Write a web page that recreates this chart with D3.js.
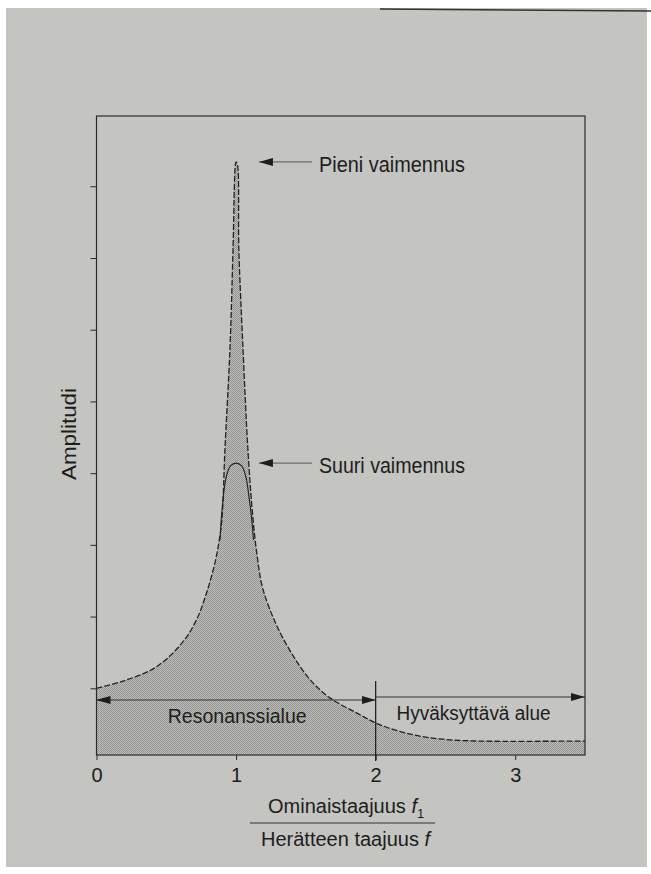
<!DOCTYPE html>
<html>
<head>
<meta charset="utf-8">
<script src="https://cdn.jsdelivr.net/npm/d3@7"></script>
<style>
body { margin: 0; background: #fff; }
text { font-family: "Liberation Sans", Arial, Helvetica, sans-serif; fill: #1d1d1d; }
</style>
</head>
<body>
<svg id="chart"></svg>
<script>
var width = 651,
    height = 874

// pieni vaimennus
var smallX = [0, 0.19, 0.43, 0.62, 0.72, 0.79, 0.85, 0.88, 0.90, 0.92, 0.956, 0.978, 0.995, 1.00,
    1.01, 1.02, 1.05, 1.085, 1.12, 1.15, 1.19, 1.29, 1.41, 1.53, 1.67, 1.87, 2.02, 2.25, 2.48, 2.73, 3.5]
var smallAmp = [1.00, 1.10, 1.30, 1.65, 1.97, 2.34, 2.76, 3.07, 3.39, 4.32, 5.72, 7.11, 8.30, 8.34,
    8.30, 7.11, 5.72, 4.32, 3.39, 2.86, 2.40, 1.88, 1.45, 1.12, 0.87, 0.65, 0.50, 0.36, 0.29, 0.265, 0.265]

// suuri vaimennus, only the arch near the peak differs
var largeX = [0.885, 0.895, 0.91, 0.93, 0.96, 1.00, 1.04, 1.07, 1.095, 1.11, 1.125]
var largeAmp = [3.07, 3.39, 3.70, 3.95, 4.10, 4.14, 4.10, 3.95, 3.63, 3.39, 3.07]

var xTicks = [0, 1, 2, 3]
var yTicks = [1, 2, 3, 4, 5, 6, 7, 8]
var regionSplit = 2
var regionLabels = ["Resonanssialue", "Hyväksyttävä alue"]

var svg = d3.select("#chart")
    .attr("width", width)
    .attr("height", height)

// paper
svg.append("rect")
    .attr("x", 6).attr("y", 8)
    .attr("width", 641).attr("height", 859)
    .attr("fill", "#c4c4c1")
svg.append("line")
    .attr("x1", 380).attr("y1", 9).attr("x2", 651).attr("y2", 11)
    .attr("stroke", "#333").attr("stroke-width", 1.5)

var x = d3.scaleLinear().domain([0, 3.5]).range([96.5, 585])
var y = d3.scaleLinear().domain([0.07, 8.98]).range([755, 116])

var defs = svg.append("defs")
var pat = defs.append("pattern")
    .attr("id", "dots")
    .attr("width", 2).attr("height", 2)
    .attr("patternUnits", "userSpaceOnUse")
pat.append("rect").attr("width", 2).attr("height", 2).attr("fill", "#bfbfbc")
pat.append("rect").attr("width", 1).attr("height", 1).attr("fill", "#929290")
pat.append("rect").attr("x", 1).attr("y", 1).attr("width", 1).attr("height", 1).attr("fill", "#929290")

defs.append("marker")
    .attr("id", "head")
    .attr("viewBox", "0 0 14 8")
    .attr("refX", 14).attr("refY", 4)
    .attr("markerWidth", 14).attr("markerHeight", 8)
    .attr("markerUnits", "userSpaceOnUse")
    .attr("orient", "auto-start-reverse")
    .append("path")
    .attr("d", "M0,0L14,4L0,8z")
    .attr("fill", "#1d1d1d")

var small = smallX.map(function (d, i) { return { x: d, a: smallAmp[i] } })
var large = largeX.map(function (d, i) { return { x: d, a: largeAmp[i] } })

var area = d3.area()
    .x(function (d) { return x(d.x) })
    .y0(y.range()[0])
    .y1(function (d) { return y(d.a) })
    .curve(d3.curveCatmullRom.alpha(0.5))
var line = d3.line()
    .x(function (d) { return x(d.x) })
    .y(function (d) { return y(d.a) })
    .curve(d3.curveCatmullRom.alpha(0.5))

svg.append("path")
    .datum(small)
    .attr("d", area)
    .attr("fill", "url(#dots)")
svg.append("path")
    .datum(small)
    .attr("d", line)
    .attr("fill", "none")
    .attr("stroke", "#222")
    .attr("stroke-width", 1.3)
    .attr("stroke-dasharray", "6,2")
svg.append("path")
    .datum(large)
    .attr("d", line)
    .attr("fill", "none")
    .attr("stroke", "#222")
    .attr("stroke-width", 1.1)

// frame
svg.append("rect")
    .attr("x", x(0)).attr("y", y.range()[1])
    .attr("width", x(3.5) - x(0))
    .attr("height", y.range()[0] - y.range()[1])
    .attr("fill", "none")
    .attr("stroke", "#2a2a2a")
    .attr("stroke-width", 1.2)

var xAxis = svg.append("g")
    .attr("transform", "translate(0," + y.range()[0] + ")")
    .call(d3.axisBottom(x).tickValues(xTicks).tickFormat(d3.format("d"))
        .tickSize(5).tickSizeOuter(0).tickPadding(8))
xAxis.select(".domain").remove()
xAxis.selectAll("line").attr("stroke", "#2a2a2a")
xAxis.selectAll("text")
    .style("font-size", "20px")
    .attr("fill", "#1d1d1d")

var yAxis = svg.append("g")
    .attr("transform", "translate(" + x(0) + ",0)")
    .call(d3.axisLeft(y).tickValues(yTicks).tickFormat("").tickSize(6).tickSizeOuter(0))
yAxis.select(".domain").remove()
yAxis.selectAll("line").attr("stroke", "#2a2a2a")

svg.append("text")
    .attr("transform", "translate(76,434) rotate(-90)")
    .attr("text-anchor", "middle")
    .attr("textLength", 92)
    .attr("lengthAdjust", "spacingAndGlyphs")
    .style("font-size", "21px")
    .text("Amplitudi")

// region split and arrows
var arrowY = y.range()[0] - 55
svg.append("line")
    .attr("x1", x(regionSplit)).attr("x2", x(regionSplit))
    .attr("y1", arrowY - 19).attr("y2", y.range()[0] + 6)
    .attr("stroke", "#222").attr("stroke-width", 1.3)
svg.append("line")
    .attr("x1", x(0)).attr("x2", x(regionSplit))
    .attr("y1", arrowY).attr("y2", arrowY)
    .attr("stroke", "#333").attr("stroke-width", 1)
    .attr("marker-start", "url(#head)")
    .attr("marker-end", "url(#head)")
svg.append("line")
    .attr("x1", x(regionSplit)).attr("x2", x(3.5))
    .attr("y1", arrowY - 3).attr("y2", arrowY - 3)
    .attr("stroke", "#333").attr("stroke-width", 1)
    .attr("marker-end", "url(#head)")

svg.append("text")
    .attr("x", x(0.51)).attr("y", arrowY + 23)
    .attr("textLength", 139)
    .attr("lengthAdjust", "spacingAndGlyphs")
    .style("font-size", "20px")
    .text(regionLabels[0])
svg.append("text")
    .attr("x", x(2.15)).attr("y", arrowY + 20)
    .attr("textLength", 154)
    .attr("lengthAdjust", "spacingAndGlyphs")
    .style("font-size", "20px")
    .text(regionLabels[1])

// peak annotations
var notes = [
    { label: "Pieni vaimennus", a: d3.max(smallAmp) },
    { label: "Suuri vaimennus", a: d3.max(largeAmp) }
]
notes.forEach(function (n) {
    svg.append("line")
        .attr("x1", x(1.545)).attr("x2", x(1.164))
        .attr("y1", y(n.a)).attr("y2", y(n.a))
        .attr("stroke", "#555").attr("stroke-width", 1)
        .attr("marker-end", "url(#head)")
    svg.append("text")
        .attr("x", x(1.594)).attr("y", y(n.a) + 10)
        .attr("textLength", 146)
        .attr("lengthAdjust", "spacingAndGlyphs")
        .style("font-size", "22px")
        .text(n.label)
})

// x axis title as a fraction
var tx = svg.append("text")
    .attr("x", 268).attr("y", 813)
    .style("font-size", "20px")
tx.append("tspan").text("Ominaistaajuus ")
tx.append("tspan").style("font-style", "italic").text("f")
tx.append("tspan").attr("dy", 5).style("font-size", "13px").text("1")
svg.append("line")
    .attr("x1", 250).attr("x2", 435)
    .attr("y1", 823).attr("y2", 823)
    .attr("stroke", "#333").attr("stroke-width", 1)
var tb = svg.append("text")
    .attr("x", 261).attr("y", 846)
    .style("font-size", "20px")
tb.append("tspan").text("Herätteen taajuus ")
tb.append("tspan").style("font-style", "italic").text("f")
</script>
</body>
</html>
